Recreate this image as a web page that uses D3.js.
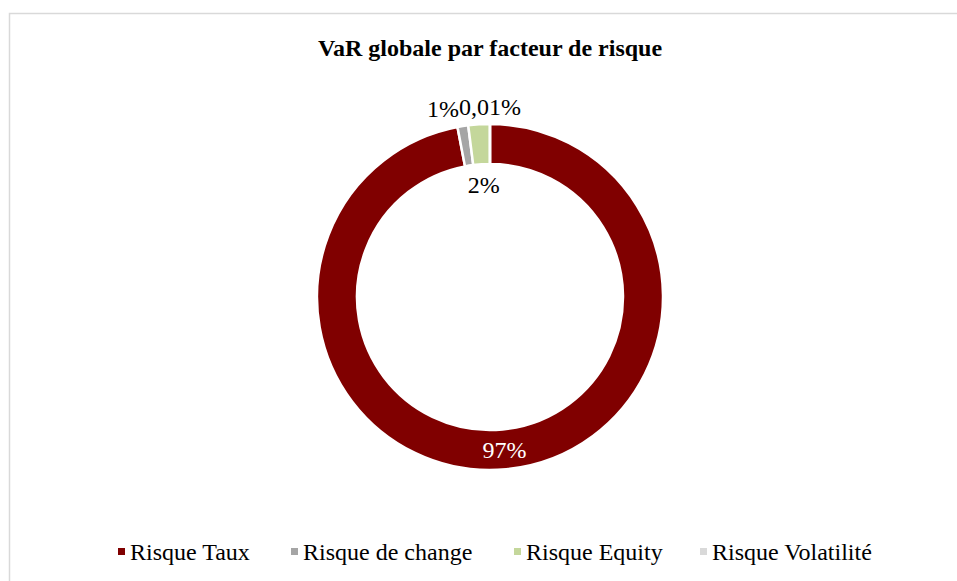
<!DOCTYPE html>
<html><head><meta charset="utf-8">
<script src="https://cdn.jsdelivr.net/npm/d3@7"></script>
<style>body{margin:0;background:#fff}svg{display:block}text{font-family:"Liberation Serif","Times New Roman",serif}</style>
</head><body>
<svg id="c" width="957" height="581"></svg>
<script>
const categories = ["Risque Taux","Risque de change","Risque Equity","Risque Volatilité"];
const values = [96.99, 1.0, 2.0, 0.01];
const labels = ["97%","1%","2%","0,01%"];
const colors = ["#800000","#a5a5a5","#c4d79b","#d9d9d9"];

const svg = d3.select("#c");
svg.append("rect").attr("x",9.5).attr("y",13.5).attr("width",960).attr("height",580)
  .attr("fill","none").attr("stroke","#d9d9d9").attr("stroke-width",1.5);

svg.append("text").attr("x",490).attr("y",56).attr("text-anchor","middle")
  .attr("font-size",24).attr("font-weight","bold").text("VaR globale par facteur de risque");

const cx=490, cy=297, rOut=173, rIn=133;
const pie = d3.pie().sort(null).value(d=>d)(values);
const arc = d3.arc().innerRadius(rIn).outerRadius(rOut);
const g = svg.append("g").attr("transform",`translate(${cx},${cy})`);
g.selectAll("path").data(pie).join("path").attr("d",arc)
  .attr("fill",(d,i)=>colors[i]).attr("stroke","#fff").attr("stroke-width",2.5);

// label placement: radius and angle offset (deg) relative to slice mid-angle
const labelPos = [
  {r:154, da:0, fill:"#fff"},
  {r:194, da:-5, fill:"#000"},
  {r:112, da:0.5, fill:"#000"},
  {r:190, da:0, fill:"#000"}
];
g.selectAll("text.lbl").data(pie).join("text").attr("class","lbl")
  .attr("text-anchor","middle").attr("dominant-baseline","central").attr("font-size",24)
  .attr("fill",(d,i)=>labelPos[i].fill)
  .attr("transform",(d,i)=>{
    const a=(d.startAngle+d.endAngle)/2 + labelPos[i].da*Math.PI/180;
    const r=labelPos[i].r;
    return `translate(${r*Math.sin(a)},${-r*Math.cos(a)})`;
  })
  .text((d,i)=>labels[i]);

const legX = [118, 291, 514, 700];
const lg = svg.append("g");
categories.forEach((c,i)=>{
  lg.append("rect").attr("x",legX[i]).attr("y",548).attr("width",7).attr("height",7).attr("fill",colors[i]);
  lg.append("text").attr("x",legX[i]+12).attr("y",559.5).attr("font-size",24).text(c);
});
</script>
</body></html>
